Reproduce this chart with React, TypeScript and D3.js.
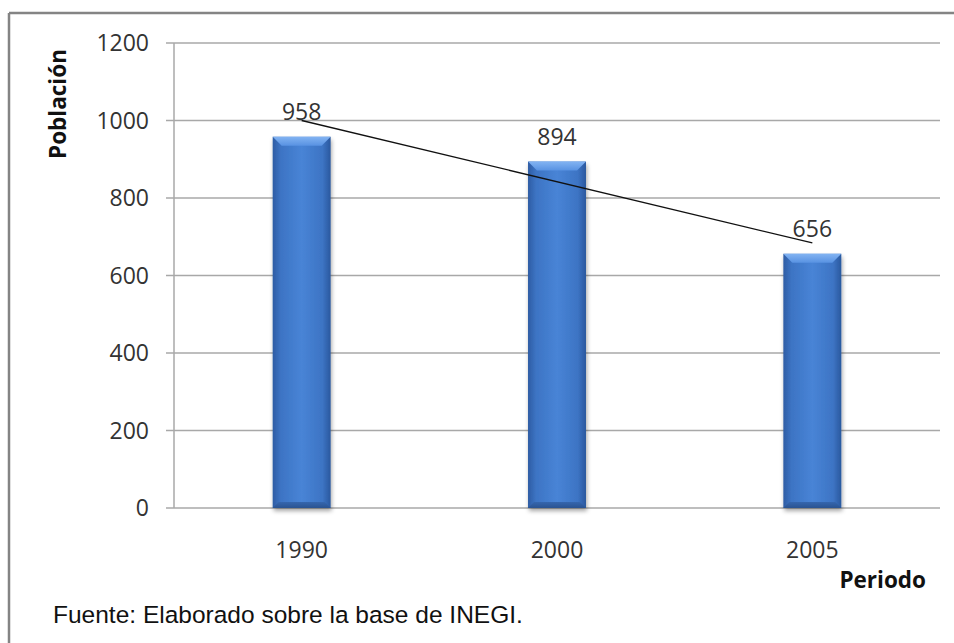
import * as d3 from "d3"

const years = ["1990", "2000", "2005"]
const poblacion = [958, 894, 656]
const yTicks = [0, 200, 400, 600, 800, 1000, 1200]
// extremos de la línea de tendencia
const trendValues = [1000, 684]

const W = 954
const H = 643
const plot = { left: 174, right: 940, top: 43, bottom: 508 }

export default function App() {
  const x = d3.scaleBand<string>()
    .domain(years)
    .range([plot.left, plot.right])
    .paddingInner(0.773)
    .paddingOuter(0.3865)

  const y = d3.scaleLinear()
    .domain([0, 1200])
    .range([plot.bottom, plot.top])

  const bw = x.bandwidth()
  const cx = (d: string) => (x(d) as number) + bw / 2

  const trendLine = d3.line<number>()
    .x((_, i) => cx(years[i === 0 ? 0 : years.length - 1]))
    .y(d => y(d))

  const tickFont = "'Open Sans', 'Noto Sans', sans-serif"
  const bev = 9

  return (
    <svg width={W} height={H} style={{ position: "absolute", left: 0, top: 0, background: "#fff" }}>
      <defs>
        <linearGradient id="barH" x1="0" y1="0" x2="1" y2="0">
          <stop offset="0%" stopColor="#2d5ca4" />
          <stop offset="14%" stopColor="#3d74c4" />
          <stop offset="50%" stopColor="#4884d6" />
          <stop offset="86%" stopColor="#3d74c4" />
          <stop offset="100%" stopColor="#2a589e" />
        </linearGradient>
        <linearGradient id="barTop" x1="0" y1="0" x2="0" y2="1">
          <stop offset="0%" stopColor="#82b3f2" />
          <stop offset="100%" stopColor="#5892e2" />
        </linearGradient>
        <linearGradient id="barBottom" x1="0" y1="0" x2="0" y2="1">
          <stop offset="0%" stopColor="#3566ae" />
          <stop offset="100%" stopColor="#2a5391" />
        </linearGradient>
        <filter id="shadow" x="-20%" y="-5%" width="140%" height="112%">
          <feDropShadow dx="1" dy="3" stdDeviation="2" floodColor="#000" floodOpacity="0.35" />
        </filter>
      </defs>

      {/* marco */}
      <line x1={9} x2={W} y1={13} y2={13} stroke="#848484" strokeWidth={2.5} />
      <line x1={9} x2={9} y1={13} y2={H} stroke="#848484" strokeWidth={2.5} />

      {/* rejilla */}
      {yTicks.map(t => (
        <g key={t}>
          <line x1={plot.left - 8} x2={plot.right} y1={y(t)} y2={y(t)} stroke="#a8a8a8" strokeWidth={1.5} />
          <text x={149} y={y(t)} dy="0.35em" textAnchor="end" fontFamily={tickFont} fontSize={23} fill="#333">{t}</text>
        </g>
      ))}
      <line x1={plot.left} x2={plot.left} y1={plot.top} y2={plot.bottom} stroke="#a8a8a8" strokeWidth={1.5} />

      {/* barras */}
      {years.map((yr, i) => {
        const x0 = x(yr) as number
        const x1 = x0 + bw
        const yt = y(poblacion[i])
        const yb = y(0)
        return (
          <g key={yr}>
            <rect x={x0} y={yt} width={bw} height={yb - yt} fill="url(#barH)" filter="url(#shadow)" />
            <polygon points={`${x0},${yt} ${x1},${yt} ${x1 - bev},${yt + bev} ${x0 + bev},${yt + bev}`} fill="url(#barTop)" />
            <polygon points={`${x0},${yb} ${x1},${yb} ${x1 - 6},${yb - 6} ${x0 + 6},${yb - 6}`} fill="url(#barBottom)" />
            <text x={cx(yr)} y={yt - 17} textAnchor="middle" fontFamily={tickFont} fontSize={23} fill="#333">{poblacion[i]}</text>
            <text x={cx(yr)} y={558} textAnchor="middle" fontFamily={tickFont} fontSize={23} fill="#333">{yr}</text>
          </g>
        )
      })}

      {/* tendencia */}
      <path d={trendLine(trendValues) as string} fill="none" stroke="#111" strokeWidth={1.3} />

      {/* títulos de ejes */}
      <text transform="translate(66,104) rotate(-90)" textAnchor="middle" fontFamily={tickFont} fontWeight="bold" fontSize={22.5} fill="#111">Población</text>
      <text x={926} y={588} textAnchor="end" fontFamily={tickFont} fontWeight="bold" fontSize={22.5} fill="#111">Periodo</text>

      {/* fuente */}
      <text x={53} y={623} fontFamily="'Liberation Sans', Arial, sans-serif" fontSize={24.5} fill="#111">Fuente: Elaborado sobre la base de INEGI.</text>
    </svg>
  )
}
